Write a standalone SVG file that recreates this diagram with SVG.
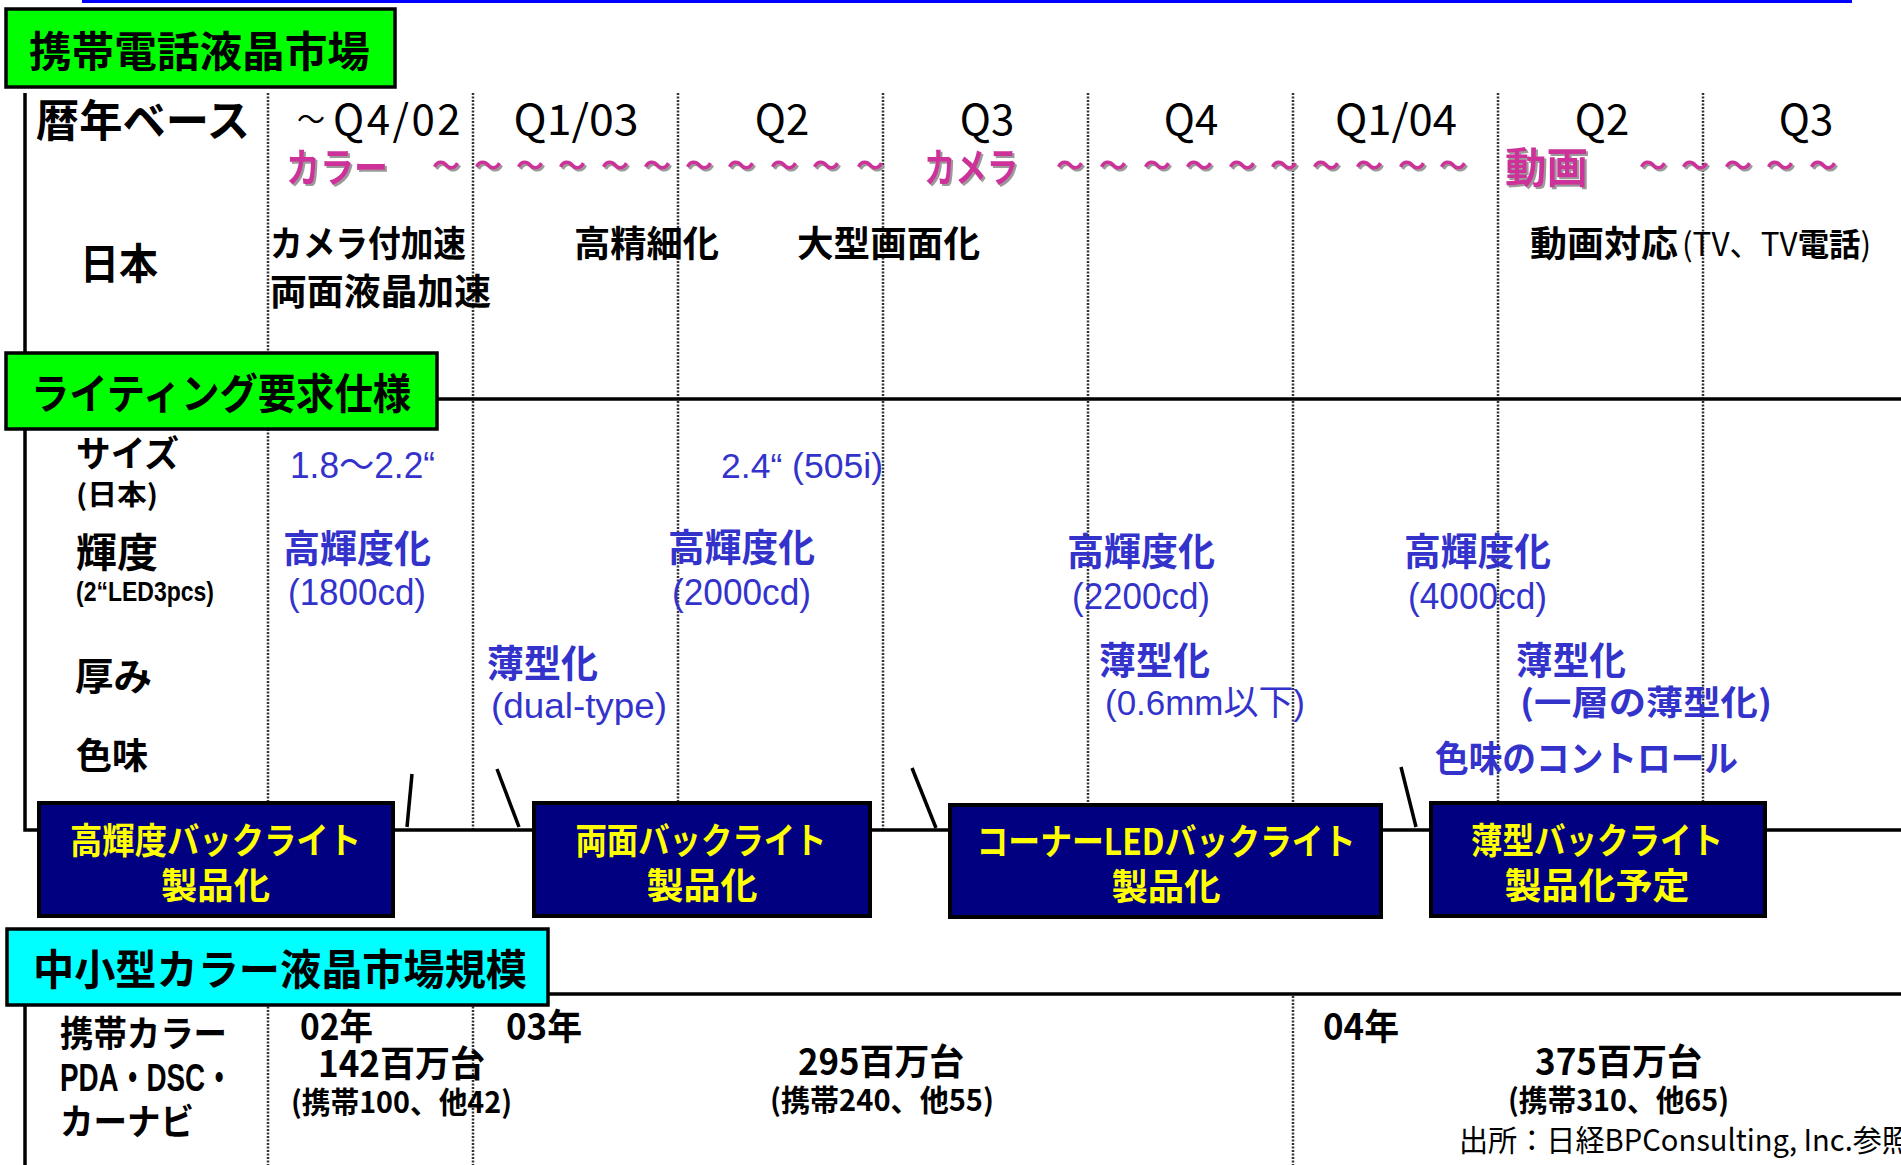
<svg xmlns="http://www.w3.org/2000/svg" width="1901" height="1165" viewBox="0 0 1901 1165">
<style>
text{font-family:"Noto Sans CJK JP","Liberation Sans",sans-serif;}
.lat{font-family:"Liberation Sans","Noto Sans CJK JP",sans-serif;}
.b{font-weight:bold;}
.blk{fill:#000;}
.blue{fill:#3333CC;}
.mag{fill:#CC3399;font-weight:bold;}
.yel{fill:#FFFF00;font-weight:bold;}
.dot{stroke:#333;stroke-width:2.5;stroke-dasharray:2 1.5;fill:none;}
.ln{stroke:#000;stroke-width:3.5;fill:none;}
.green{fill:#00FF00;stroke:#000;stroke-width:3.5;}
.cyan{fill:#00FFFF;stroke:#000;stroke-width:3.5;}
.navy{fill:#000080;stroke:#000;stroke-width:4;}
</style>
<defs>
<filter id="sh" x="-10%" y="-10%" width="130%" height="140%"><feDropShadow dx="2" dy="2" stdDeviation="0.4" flood-color="#9a9a9a"/></filter>
</defs>
<rect width="1901" height="1165" fill="#fff"/>
<line x1="82" y1="1.5" x2="1852" y2="1.5" stroke="#0000FF" stroke-width="3"/>

<g id="grid">
<line class="dot" x1="268" y1="93" x2="268" y2="830"/>
<line class="dot" x1="473" y1="93" x2="473" y2="830"/>
<line class="dot" x1="678" y1="93" x2="678" y2="830"/>
<line class="dot" x1="883" y1="93" x2="883" y2="830"/>
<line class="dot" x1="1088" y1="93" x2="1088" y2="830"/>
<line class="dot" x1="1293" y1="93" x2="1293" y2="830"/>
<line class="dot" x1="1498" y1="93" x2="1498" y2="830"/>
<line class="dot" x1="1703" y1="93" x2="1703" y2="830"/>
<line class="dot" x1="268" y1="996" x2="268" y2="1165"/>
<line class="dot" x1="473" y1="996" x2="473" y2="1165"/>
<line class="dot" x1="1293" y1="996" x2="1293" y2="1165"/>
<path class="ln" d="M25,93 V830 H1901"/>
<line class="ln" x1="25" y1="399" x2="1901" y2="399"/>
<line class="ln" x1="25" y1="994" x2="1901" y2="994"/>
<line class="ln" x1="25" y1="1000" x2="25" y2="1165"/>
</g>

<g id="connectors">
<line class="ln" stroke-width="3" x1="412" y1="774" x2="407" y2="827"/>
<line class="ln" stroke-width="3" x1="497" y1="769" x2="519" y2="827"/>
<line class="ln" stroke-width="3" x1="912" y1="768" x2="936" y2="828"/>
<line class="ln" stroke-width="3" x1="1401" y1="767" x2="1416" y2="827"/>
</g>

<g id="title-market">
<rect class="green" x="6" y="9" width="389" height="78"/>
<text class="b" x="29" y="67" font-size="42" textLength="341" lengthAdjust="spacingAndGlyphs">携帯電話液晶市場</text>
</g>

<g id="header-row">
<text class="b" x="36" y="137" font-size="44" textLength="214" lengthAdjust="spacingAndGlyphs">暦年ベース</text>
<g class="lat" font-size="42">
<text x="297" y="135"><tspan font-size="28" dy="-5">～</tspan><tspan x="333" dy="5" letter-spacing="2.5">Q4/02</tspan></text>
<g text-anchor="middle">
<text x="576" y="135" textLength="125" lengthAdjust="spacingAndGlyphs">Q1/03</text>
<text x="782" y="135">Q2</text>
<text x="987" y="135">Q3</text>
<text x="1191" y="135">Q4</text>
<text x="1396" y="135" textLength="122" lengthAdjust="spacingAndGlyphs">Q1/04</text>
<text x="1602" y="135">Q2</text>
<text x="1806" y="135">Q3</text>
</g>
</g>
</g>

<g id="trend-row" filter="url(#sh)">
<text class="mag" x="286" y="182" font-size="40" textLength="102" lengthAdjust="spacingAndGlyphs">カラー</text>
<text class="mag" x="924" y="182" font-size="40" textLength="94" lengthAdjust="spacingAndGlyphs">カメラ</text>
<text class="mag" x="1505" y="183" font-size="42" textLength="83" lengthAdjust="spacingAndGlyphs">動画</text>
<text class="mag" font-size="28" text-anchor="middle" y="176" x="446 488 530 572 615 657 699 741 784 826 870">～～～～～～～～～～～</text>
<text class="mag" font-size="28" text-anchor="middle" y="176" x="1070 1113 1157 1199 1242 1284 1326 1369 1412 1453">～～～～～～～～～～</text>
<text class="mag" font-size="28" text-anchor="middle" y="176" x="1653 1695 1738 1780 1823">～～～～～</text>
</g>

<g id="japan-row">
<text class="b" x="80" y="279" font-size="42" textLength="78" lengthAdjust="spacingAndGlyphs">日本</text>
<text class="b" x="270" y="257" font-size="36" textLength="196" lengthAdjust="spacingAndGlyphs">カメラ付加速</text>
<text class="b" x="270" y="305" font-size="36" textLength="221" lengthAdjust="spacingAndGlyphs">両面液晶加速</text>
<text class="b" x="574" y="257" font-size="36" textLength="145" lengthAdjust="spacingAndGlyphs">高精細化</text>
<text class="b" x="797" y="257" font-size="36" textLength="183" lengthAdjust="spacingAndGlyphs">大型画面化</text>
<text class="b" x="1530" y="257" font-size="36" textLength="148" lengthAdjust="spacingAndGlyphs">動画対応</text>
<text x="1682" y="256" font-size="32" textLength="189" lengthAdjust="spacingAndGlyphs">(TV、TV<tspan class="b">電話</tspan>)</text>
</g>

<g id="title-lighting">
<rect class="green" x="6" y="353" width="431" height="76"/>
<text class="b" x="31" y="409" font-size="42" textLength="380" lengthAdjust="spacingAndGlyphs">ライティング要求仕様</text>
</g>

<g id="spec-labels">
<text class="b" x="76" y="467" font-size="36" textLength="103" lengthAdjust="spacingAndGlyphs">サイズ</text>
<text class="b" x="76" y="505" font-size="28" textLength="82" lengthAdjust="spacingAndGlyphs">(日本)</text>
<text class="b" x="76" y="567" font-size="40" textLength="82" lengthAdjust="spacingAndGlyphs">輝度</text>
<text class="lat b" x="76" y="601" font-size="27" textLength="138" lengthAdjust="spacingAndGlyphs">(2“LED3pcs)</text>
<text class="b" x="75" y="690" font-size="38" textLength="77" lengthAdjust="spacingAndGlyphs">厚み</text>
<text class="b" x="76" y="769" font-size="36" textLength="72" lengthAdjust="spacingAndGlyphs">色味</text>
</g>

<g id="spec-values">
<text class="lat blue" x="290" y="478" font-size="36" textLength="145" lengthAdjust="spacingAndGlyphs">1.8～2.2“</text>
<text class="lat blue" x="721" y="478" font-size="35" textLength="162" lengthAdjust="spacingAndGlyphs">2.4“ (505i)</text>
<text class="b blue" x="283" y="562" font-size="38" textLength="148" lengthAdjust="spacingAndGlyphs">高輝度化</text>
<text class="lat blue" x="288" y="605" font-size="37" textLength="138" lengthAdjust="spacingAndGlyphs">(1800cd)</text>
<text class="b blue" x="668" y="561" font-size="38" textLength="147" lengthAdjust="spacingAndGlyphs">高輝度化</text>
<text class="lat blue" x="672" y="605" font-size="37" textLength="139" lengthAdjust="spacingAndGlyphs">(2000cd)</text>
<text class="b blue" x="1067" y="565" font-size="38" textLength="148" lengthAdjust="spacingAndGlyphs">高輝度化</text>
<text class="lat blue" x="1072" y="609" font-size="37" textLength="138" lengthAdjust="spacingAndGlyphs">(2200cd)</text>
<text class="b blue" x="1404" y="565" font-size="38" textLength="147" lengthAdjust="spacingAndGlyphs">高輝度化</text>
<text class="lat blue" x="1408" y="609" font-size="37" textLength="139" lengthAdjust="spacingAndGlyphs">(4000cd)</text>
<text class="b blue" x="487" y="677" font-size="38" textLength="111" lengthAdjust="spacingAndGlyphs">薄型化</text>
<text class="lat blue" x="491" y="718" font-size="35" textLength="176" lengthAdjust="spacingAndGlyphs">(dual-type)</text>
<text class="b blue" x="1099" y="674" font-size="38" textLength="111" lengthAdjust="spacingAndGlyphs">薄型化</text>
<text class="lat blue" x="1105" y="715" font-size="35" textLength="200" lengthAdjust="spacingAndGlyphs">(0.6mm以下)</text>
<text class="b blue" x="1516" y="674" font-size="38" textLength="110" lengthAdjust="spacingAndGlyphs">薄型化</text>
<text class="b blue" x="1520" y="715" font-size="34" textLength="252" lengthAdjust="spacingAndGlyphs">(一層の薄型化)</text>
<text class="b blue" x="1435" y="772" font-size="36" textLength="303" lengthAdjust="spacingAndGlyphs">色味のコントロール</text>
</g>

<g id="box-high-brightness">
<rect class="navy" x="39" y="803" width="354" height="113"/>
<text class="yel" x="215.5" y="854" font-size="36" text-anchor="middle" textLength="291" lengthAdjust="spacingAndGlyphs">高輝度バックライト</text>
<text class="yel" x="215.5" y="899" font-size="36" text-anchor="middle" textLength="109" lengthAdjust="spacingAndGlyphs">製品化</text>
</g>
<g id="box-dual">
<rect class="navy" x="534" y="803" width="336" height="113"/>
<text class="yel" x="701" y="854" font-size="36" text-anchor="middle" textLength="251" lengthAdjust="spacingAndGlyphs">両面バックライト</text>
<text class="yel" x="702" y="899" font-size="36" text-anchor="middle" textLength="111" lengthAdjust="spacingAndGlyphs">製品化</text>
</g>
<g id="box-corner-led">
<rect class="navy" x="950" y="805" width="431" height="112"/>
<text class="yel" x="1166" y="855" font-size="36" text-anchor="middle" textLength="379" lengthAdjust="spacingAndGlyphs">コーナーLEDバックライト</text>
<text class="yel" x="1166" y="900" font-size="36" text-anchor="middle" textLength="109" lengthAdjust="spacingAndGlyphs">製品化</text>
</g>
<g id="box-thin">
<rect class="navy" x="1431" y="803" width="334" height="113"/>
<text class="yel" x="1597" y="854" font-size="36" text-anchor="middle" textLength="252" lengthAdjust="spacingAndGlyphs">薄型バックライト</text>
<text class="yel" x="1597" y="899" font-size="36" text-anchor="middle" textLength="185" lengthAdjust="spacingAndGlyphs">製品化予定</text>
</g>

<g id="title-size">
<rect class="cyan" x="7" y="929" width="541" height="76"/>
<text class="b" x="33" y="985" font-size="42" textLength="494" lengthAdjust="spacingAndGlyphs">中小型カラー液晶市場規模</text>
</g>

<g id="market-size">
<text class="b" x="60" y="1047" font-size="36" textLength="167" lengthAdjust="spacingAndGlyphs">携帯カラー</text>
<text class="lat b" x="60" y="1091" font-size="39" textLength="173" lengthAdjust="spacingAndGlyphs">PDA・DSC・</text>
<text class="b" x="60" y="1135" font-size="36" textLength="134" lengthAdjust="spacingAndGlyphs">カーナビ</text>
<text class="b" x="300" y="1040" font-size="36" textLength="73" lengthAdjust="spacingAndGlyphs">02年</text>
<text class="b" x="318" y="1077" font-size="36" textLength="167" lengthAdjust="spacingAndGlyphs">142百万台</text>
<text class="b" x="291" y="1113" font-size="30" textLength="221" lengthAdjust="spacingAndGlyphs">(携帯100、他42)</text>
<text class="b" x="506" y="1040" font-size="36" textLength="76" lengthAdjust="spacingAndGlyphs">03年</text>
<text class="b" x="798" y="1075" font-size="36" textLength="166" lengthAdjust="spacingAndGlyphs">295百万台</text>
<text class="b" x="770" y="1111" font-size="30" textLength="224" lengthAdjust="spacingAndGlyphs">(携帯240、他55)</text>
<text class="b" x="1323" y="1040" font-size="36" textLength="76" lengthAdjust="spacingAndGlyphs">04年</text>
<text class="b" x="1535" y="1075" font-size="36" textLength="167" lengthAdjust="spacingAndGlyphs">375百万台</text>
<text class="b" x="1508" y="1111" font-size="30" textLength="221" lengthAdjust="spacingAndGlyphs">(携帯310、他65)</text>
<text x="1459" y="1151" font-size="30" textLength="452" lengthAdjust="spacingAndGlyphs">出所：日経BPConsulting, Inc.参照</text>
</g>
</svg>
